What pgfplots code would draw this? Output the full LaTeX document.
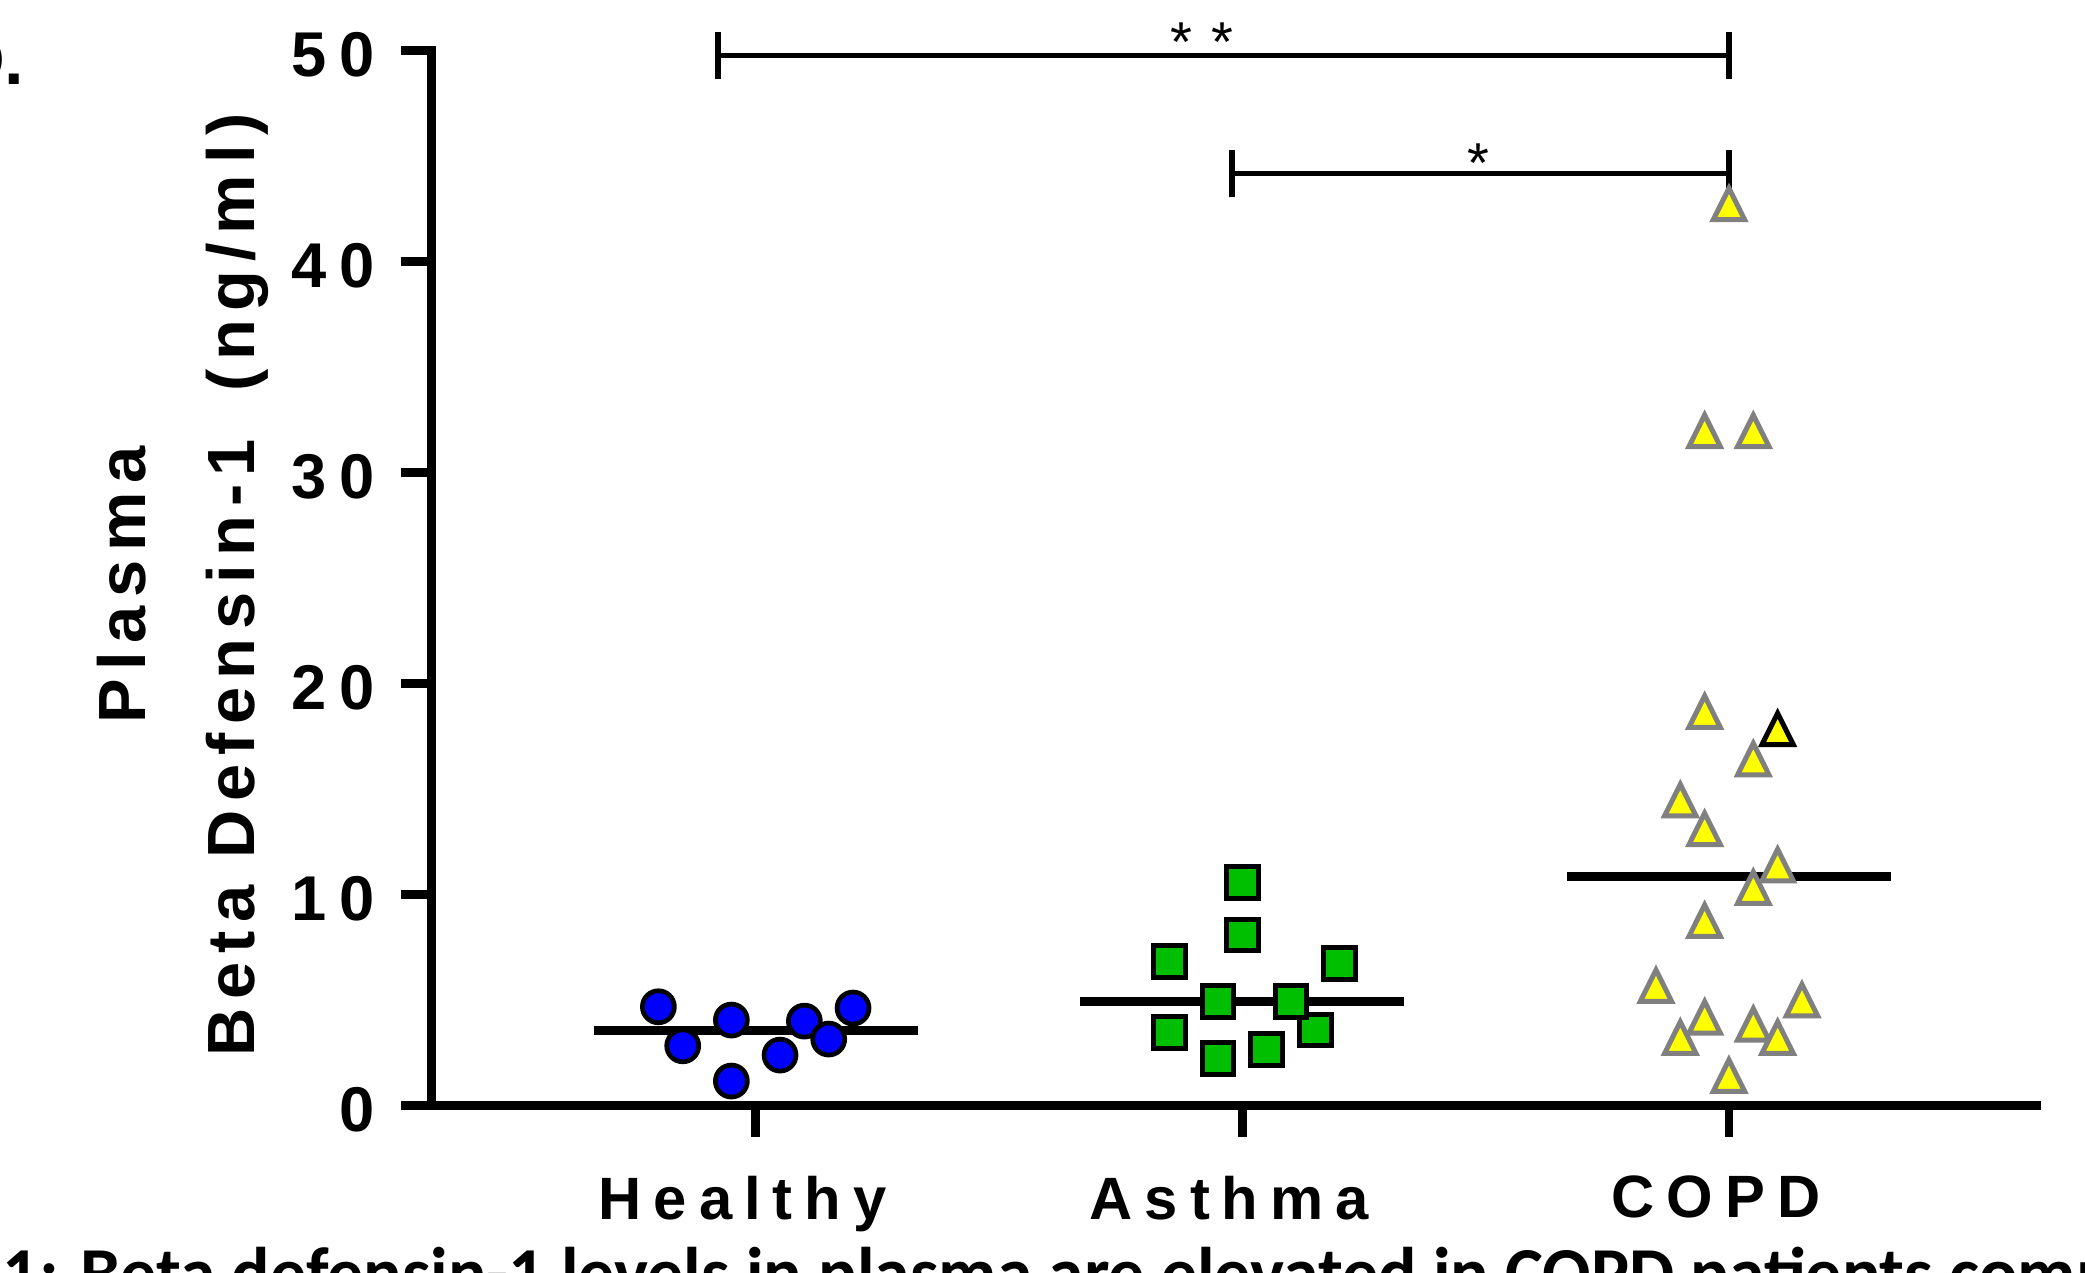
\documentclass[border=0pt]{standalone}
\usepackage{fontspec}
\setmainfont{Liberation Sans}
\usepackage{pgfplots}
\pgfplotsset{compat=1.18}
\newfontfamily\ticksfont[LetterSpace=20]{Liberation Sans}
\newfontfamily\catfont[LetterSpace=20]{Liberation Sans}
\newfontfamily\ylabfont[LetterSpace=13]{Liberation Sans}
\newfontfamily\capfont{Carlito}
\definecolor{ptblue}{RGB}{0,0,255}
\definecolor{ptgreen}{RGB}{0,190,0}
\definecolor{ptyellow}{RGB}{255,255,0}
\definecolor{ptgray}{RGB}{128,128,128}

\begin{document}
\begin{tikzpicture}
\useasboundingbox (0,0) rectangle (20.85,12.72);
\clip (0,0) rectangle (20.85,12.72);

% panel letter
\node[anchor=base east, inner sep=0pt, font=\bfseries\fontsize{20}{24}\selectfont] at (0.25,11.87) {D.};

\begin{axis}[
  at={(4.317cm,1.665cm)}, anchor=south west,
  scale only axis, width=16.048cm, height=10.55cm,
  xmin=-0.6658, xmax=2.632, ymin=0, ymax=50,
  axis x line=bottom, axis y line=left,
  axis line style={line width=0.09cm, -, line cap=rect},
  xtick={0,1,2}, xticklabels={Healthy,Asthma,COPD},
  ytick={0,10,20,30,40,50},
  tick align=outside,
  major tick length=0.31cm,
  tick style={line width=0.085cm, black},
  /pgf/number format/assume math mode=true,
  xticklabel style={font=\catfont\bfseries\fontsize{17}{20}\selectfont, anchor=north, inner sep=0pt, yshift=-0.39cm, xshift=-0.13cm},
  yticklabel style={font=\ticksfont\bfseries\fontsize{18}{21}\selectfont, anchor=east, inner sep=0pt, xshift=-0.25cm, yshift=-0.04cm},
  clip=false,
]
% medians
\addplot[line width=0.095cm, black] coordinates {(-0.333,3.56) (0.333,3.56)};
\addplot[line width=0.095cm, black] coordinates {(0.667,4.92) (1.333,4.92)};
\addplot[line width=0.095cm, black] coordinates {(1.667,10.86) (2.333,10.86)};

% Healthy
\addplot[only marks, mark=*, mark size=4.55pt,
  mark options={fill=ptblue, draw=black, line width=0.047cm}]
  coordinates {(-0.20,4.68) (-0.15,2.83) (-0.05,4.05) (-0.05,1.16)
               (0.05,2.39) (0.10,4.00) (0.20,4.62) (0.15,3.15)};

% Asthma
\addplot[only marks, mark=square*, mark size=4.5pt,
  mark options={fill=ptgreen, draw=black, line width=0.05cm}]
  coordinates {(1.00,10.58) (1.00,8.08) (0.85,6.82) (1.20,6.74)
               (1.15,3.58) (0.95,4.92) (1.10,4.92) (0.85,3.45)
               (0.95,2.24) (1.05,2.66)};

% COPD
\addplot[only marks, mark=triangle*, mark size=5.15pt,
  mark options={fill=ptyellow, draw=ptgray, line width=0.05cm, yscale=1.16}]
  coordinates {(2.00,42.48) (1.95,31.73) (2.05,31.73) (1.95,18.42)};
\addplot[only marks, mark=triangle*, mark size=5.15pt,
  mark options={fill=ptyellow, draw=black, line width=0.05cm, yscale=1.16}]
  coordinates {(2.10,17.60)};
\addplot[only marks, mark=triangle*, mark size=5.15pt,
  mark options={fill=ptyellow, draw=ptgray, line width=0.05cm, yscale=1.16}]
  coordinates {(2.05,16.17) (1.90,14.23) (1.95,12.86) (2.10,11.15)
               (2.05,10.08) (1.95,8.51) (1.85,5.43) (2.15,4.75)
               (1.95,3.93) (2.05,3.60) (1.90,2.97) (2.10,2.97) (2.00,1.17)};

% significance brackets
\draw[line width=0.047cm] (axis cs:-0.0775,49.75) -- (axis cs:2.0,49.75);
\draw[line width=0.06cm] (axis cs:-0.0775,48.63) -- (axis cs:-0.0775,50.86);
\draw[line width=0.06cm] (axis cs:2.0,48.63) -- (axis cs:2.0,50.86);
\draw[line width=0.047cm] (axis cs:0.978,44.18) -- (axis cs:2.0,44.18);
\draw[line width=0.06cm] (axis cs:0.978,43.04) -- (axis cs:0.978,45.28);
\draw[line width=0.06cm] (axis cs:2.0,43.04) -- (axis cs:2.0,45.28);
\end{axis}

% stars
\node[anchor=base, inner sep=0pt, font=\fontsize{16}{18}\selectfont] at (11.818,12.10) {*};
\node[anchor=base, inner sep=0pt, font=\fontsize{16}{18}\selectfont] at (12.223,12.10) {*};
\node[anchor=base, inner sep=0pt, font=\fontsize{16}{18}\selectfont] at (14.786,10.89) {*};

% y-axis title
\node[rotate=90, anchor=base, inner sep=0pt, font=\ylabfont\bfseries\fontsize{19}{22}\selectfont] at (1.45,6.87) {Plasma};
\node[rotate=90, anchor=base, inner sep=0pt, font=\ylabfont\bfseries\fontsize{19}{22}\selectfont] at (2.545,6.87) {Beta Defensin-1\hspace{0.2cm} (ng/m\hspace{0.12cm}l)};

% caption
\node[anchor=base west, inner sep=0pt, font=\capfont\bfseries\fontsize{20.4}{24}\selectfont] at (0.02,-0.25) {1: Beta defensin-1 levels in plasma are elevated in COPD patients compared to};
\end{tikzpicture}
\end{document}
